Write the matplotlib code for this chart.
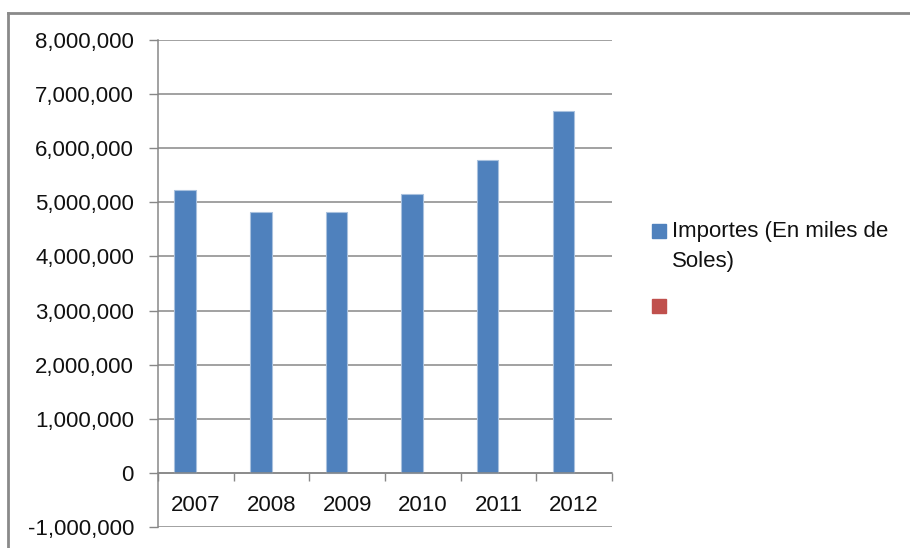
import matplotlib
matplotlib.use("Agg")
import matplotlib.pyplot as plt
from matplotlib.lines import Line2D
from matplotlib.patches import Rectangle
from matplotlib.ticker import FuncFormatter, FixedLocator
import numpy as np

plt.rcParams['font.family'] = ['Liberation Sans', 'DejaVu Sans']

# Data
years = ["2007", "2008", "2009", "2010", "2011", "2012"]
importes = [5230000, 4815000, 4815000, 5150000, 5780000, 6680000]
second_series = [None, None, None, None, None, None]
series_labels = ["Importes (En miles de\nSoles)", ""]
series_colors = ["#4F81BD", "#C0504D"]

GRID = "#878787"
FS = 16

fig = plt.figure(figsize=(9.10, 5.48), dpi=100)
ax = fig.add_axes([158 / 910, 1 - 527 / 548, 454 / 910, 487 / 548])

n = len(years)
w = 1 / 3.5
gap = 1.5 * w / 2
x = np.arange(n)
vals = np.array(importes, dtype=float)
ax.bar(x + gap, vals, width=w, align="edge", color=series_colors[0],
       edgecolor="#a9c1de", linewidth=0.8, zorder=3)
vals2 = np.array([np.nan if v is None else v for v in second_series], dtype=float)
ax.bar(x + gap + w, np.nan_to_num(vals2), width=w, align="edge",
       color=series_colors[1], linewidth=0, zorder=3)

ax.set_xlim(0, n)
ax.set_ylim(-1_000_000, 8_000_000)
ax.yaxis.set_major_locator(FixedLocator(np.arange(-1_000_000, 8_000_001, 1_000_000)))
ax.yaxis.set_major_formatter(FuncFormatter(lambda v, p: f"{int(v):,}"))
ax.grid(axis="y", color=GRID, linewidth=1.1, zorder=0)
ax.tick_params(axis="y", direction="out", length=6.8, width=1.0, color=GRID,
               pad=10.5, labelsize=FS, labelcolor="#111111")

# Category axis sits on the zero line
for s in ("top", "right"):
    ax.spines[s].set_visible(False)
ax.spines["bottom"].set_position(("data", 0))
ax.spines["bottom"].set_color(GRID)
ax.spines["bottom"].set_linewidth(1.1)
ax.spines["bottom"].set_zorder(4)
ax.spines["left"].set_color(GRID)
ax.spines["left"].set_linewidth(1.1)

ax.set_xticks(x + 0.5)
ax.set_xticklabels(years)
ax.set_xticks(np.arange(n + 1), minor=True)
ax.tick_params(axis="x", which="major", length=0, pad=16, labelsize=FS,
               labelcolor="#111111")
ax.tick_params(axis="x", which="minor", direction="out", length=5.5,
               width=1.0, color=GRID)

# Legend drawn beside the plot area
sq = 14
lx, ly = 652, 224
fig.add_artist(Rectangle((lx / 910, 1 - (ly + sq) / 548), sq / 910, sq / 548,
                         transform=fig.transFigure, color=series_colors[0]))
fig.text((lx + 20) / 910, 1 - (ly + 7) / 548, "Importes (En miles de",
         fontsize=FS, va="center", ha="left", color="#111111")
fig.text((lx + 20) / 910, 1 - (ly + 38) / 548, "Soles)",
         fontsize=FS, va="center", ha="left", color="#111111")
fig.add_artist(Rectangle((lx / 910, 1 - (299 + sq) / 548), sq / 910, sq / 548,
                         transform=fig.transFigure, color=series_colors[1]))

# Chart frame (top and left edges)
bc = "#8a8a8a"
fig.add_artist(Line2D([7.5 / 910, 1.0], [1 - 12.5 / 548, 1 - 12.5 / 548],
                      transform=fig.transFigure, color=bc, linewidth=2.0))
fig.add_artist(Line2D([7.5 / 910, 7.5 / 910], [0, 1 - 12.5 / 548],
                      transform=fig.transFigure, color=bc, linewidth=2.0))

fig.savefig("out.png", dpi=100)
